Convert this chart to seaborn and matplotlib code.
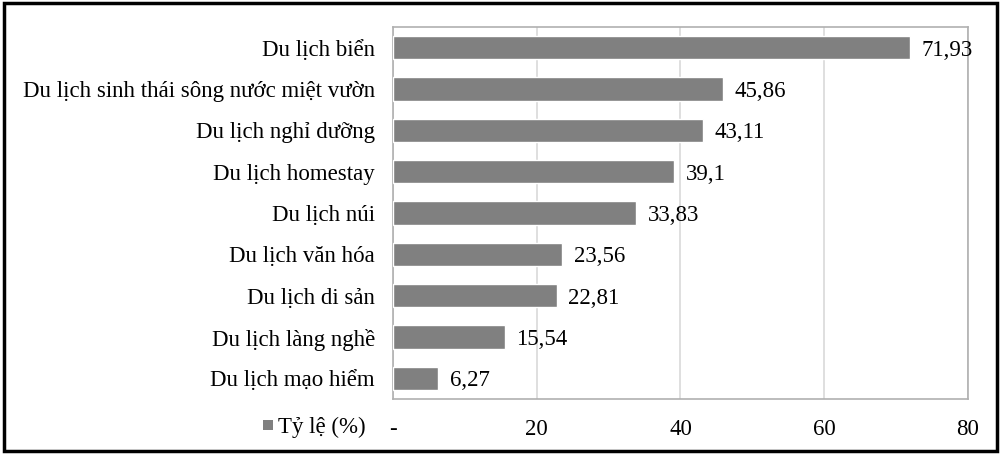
import matplotlib
matplotlib.use("Agg")
import matplotlib.pyplot as plt
import seaborn as sns
import pandas as pd
from matplotlib.patches import Rectangle

categories = ["Du lịch biển", "Du lịch sinh thái sông nước miệt vườn", "Du lịch nghỉ dưỡng",
              "Du lịch homestay", "Du lịch núi", "Du lịch văn hóa", "Du lịch di sản",
              "Du lịch làng nghề", "Du lịch mạo hiểm"]
values = [71.93, 45.86, 43.11, 39.1, 33.83, 23.56, 22.81, 15.54, 6.27]
value_labels = ["71,93", "45,86", "43,11", "39,1", "33,83", "23,56", "22,81", "15,54", "6,27"]
xticks = [0, 20, 40, 60, 80]
xtick_labels = ["-", "20", "40", "60", "80"]
legend_label = "Tỷ lệ (%)"

sns.set_theme(style="white")
plt.rcParams['font.family'] = ['Liberation Serif', 'DejaVu Serif']
plt.rcParams['text.color'] = 'black'
plt.rcParams['xtick.color'] = 'black'
plt.rcParams['ytick.color'] = 'black'
FS = 16.5

df = pd.DataFrame({"cat": categories, "val": values})

fig = plt.figure(figsize=(10.01, 4.54), dpi=100)
ax = fig.add_axes([0.3926, 0.121, 0.5744, 0.8195])
sns.barplot(data=df, y="cat", x="val", color="#808080", saturation=1, width=0.56, ax=ax, zorder=3)

ax.set_xlim(0, 80)
ax.set_xticks(xticks)
ax.set_xticklabels(xtick_labels, fontsize=FS)
ax.tick_params(axis='x', length=0, pad=14, colors='black')
ax.tick_params(axis='y', length=0, pad=13, labelsize=FS, colors='black')
ax.set_xlabel("")
ax.set_ylabel("")
ax.xaxis.grid(True, color="#d9d9d9", linewidth=1.2, zorder=0)
ax.yaxis.grid(False)
for s in ax.spines.values():
    s.set_color("#b0b0b0")
    s.set_linewidth(1.2)

for i, (v, lab) in enumerate(zip(values, value_labels)):
    ax.text(v + 1.6, i, lab, va="center_baseline", ha="left", fontsize=FS, color="black", zorder=4)

# legend
fig.patches.append(Rectangle((263/1001, 1-430/454), 10/1001, 10/454, transform=fig.transFigure,
                             facecolor="#808080", edgecolor="none"))
fig.text(278/1001, 1-425/454, legend_label, fontsize=FS, va="center_baseline", ha="left", color="black")

# figure border
fig.patches.append(Rectangle((0.004, 0.006), 0.992, 0.988, transform=fig.transFigure,
                             facecolor="none", edgecolor="black", linewidth=2.5))

fig.savefig("out.png", dpi=100)
